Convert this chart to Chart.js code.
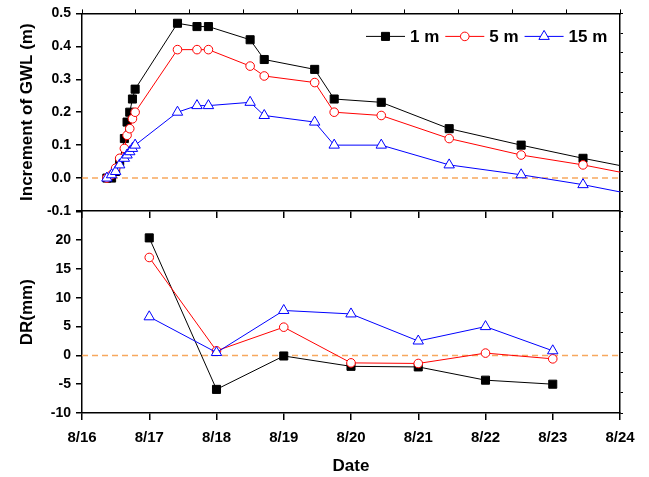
<!DOCTYPE html>
<html>
<head>
<meta charset="utf-8">
<script src="https://cdn.jsdelivr.net/npm/chart.js@4.4.1/dist/chart.umd.min.js"></script>
<style>
  body { margin: 0; background: #fff; }
  #wrap { position: relative; width: 649px; height: 477px; overflow: hidden; }
  #topChart { position: absolute; left: 0; top: 0; }
  #bottomChart { position: absolute; left: 0; top: 197px; }
</style>
</head>
<body>
<div id="wrap">
  <canvas id="topChart" width="649" height="225" style="width:649px;height:225px"></canvas>
  <canvas id="bottomChart" width="649" height="280" style="width:649px;height:280px"></canvas>
</div>
<script>
// days after 8/16 00:00
const dayLabels = ['8/16', '8/17', '8/18', '8/19', '8/20', '8/21', '8/22', '8/23', '8/24'];

// top panel - increment of groundwater level (m)
const gwlTimes = [0.37, 0.44, 0.50, 0.56, 0.63, 0.67, 0.71, 0.75, 0.79, 1.42, 1.71, 1.88, 2.50, 2.71, 3.46, 3.75, 4.45, 5.46, 6.53, 7.45, 8.45];
const gwl1m  = [0.00, 0.00, 0.02, 0.05, 0.12, 0.17, 0.20, 0.24, 0.27, 0.47, 0.46, 0.46, 0.42, 0.36, 0.33, 0.24, 0.23, 0.15, 0.10, 0.06, 0.02];
const gwl5m  = [0.00, 0.01, 0.03, 0.06, 0.09, 0.13, 0.15, 0.18, 0.20, 0.39, 0.39, 0.39, 0.34, 0.31, 0.29, 0.20, 0.19, 0.12, 0.07, 0.04, 0.00];
const gwl15m = [0.00, 0.01, 0.02, 0.04, 0.06, 0.07, 0.08, 0.09, 0.10, 0.20, 0.22, 0.22, 0.23, 0.19, 0.17, 0.10, 0.10, 0.04, 0.01, -0.02, -0.06];

// bottom panel - DR (mm)
const drDays = [1, 2, 3, 4, 5, 6, 7];
const dr1m  = [20.4, -5.9, -0.1, -1.9, -2.0, -4.3, -5.0];
const dr5m  = [17.0, 0.8, 4.9, -1.3, -1.4, 0.4, -0.6];
const dr15m = [6.7, 0.5, 7.8, 7.2, 2.5, 5.0, 0.8];

const seriesNames = ['1 m', '5 m', '15 m'];

Chart.defaults.font.family = "'Liberation Sans', Arial, sans-serif";
Chart.defaults.color = '#000';

const styles = [
  { borderColor: '#000000', backgroundColor: '#000000', pointStyle: 'rect', pointRadius: 5.7, order: 3 },
  { borderColor: '#ff0000', backgroundColor: '#ffffff', pointStyle: 'circle', pointRadius: 4.3, order: 2 },
  { borderColor: '#0000ff', backgroundColor: '#ffffff', pointStyle: 'triangle', pointRadius: 6, order: 1 }
];

function pts(xs, ys) {
  return xs.map((x, i) => ({ x: x, y: ys[i] }));
}

function makeSets(xs, lists) {
  return lists.map((ys, i) => Object.assign({
    label: seriesNames[i],
    data: pts(xs, ys),
    borderWidth: 1,
    pointBorderWidth: 1,
    pointHoverRadius: styles[i].pointRadius
  }, styles[i]));
}

const zeroLine = {
  id: 'zeroLine',
  beforeDatasetsDraw(chart) {
    const a = chart.chartArea;
    const y = chart.scales.y.getPixelForValue(0);
    const ctx = chart.ctx;
    ctx.save();
    ctx.strokeStyle = '#f7a85e';
    ctx.lineWidth = 1.5;
    ctx.setLineDash([6, 4]);
    ctx.beginPath();
    ctx.moveTo(a.left, y);
    ctx.lineTo(a.right, y);
    ctx.stroke();
    ctx.restore();
  }
};

function drawMark(ctx, st, x, y) {
  const r = st.pointRadius;
  ctx.fillStyle = st.backgroundColor;
  ctx.strokeStyle = st.borderColor;
  ctx.lineWidth = 1;
  ctx.beginPath();
  if (st.pointStyle === 'rect') {
    const h = r * Math.SQRT1_2;
    ctx.rect(x - h, y - h, 2 * h, 2 * h);
  } else if (st.pointStyle === 'circle') {
    ctx.arc(x, y, r, 0, Math.PI * 2);
  } else {
    ctx.moveTo(x, y - r);
    ctx.lineTo(x + r * Math.sin(Math.PI * 2 / 3), y + r / 2);
    ctx.lineTo(x - r * Math.sin(Math.PI * 2 / 3), y + r / 2);
    ctx.closePath();
  }
  ctx.fill();
  ctx.stroke();
}

const legendBox = {
  id: 'legendBox',
  afterDatasetsDraw(chart) {
    const ctx = chart.ctx;
    const a = chart.chartArea;
    let x = a.right - 254;
    const y = a.top + 23;
    ctx.save();
    ctx.font = "bold 17px 'Liberation Sans', Arial, sans-serif";
    ctx.textBaseline = 'middle';
    chart.data.datasets.forEach((ds, i) => {
      ctx.strokeStyle = ds.borderColor;
      ctx.lineWidth = 1;
      ctx.beginPath();
      ctx.moveTo(x, y);
      ctx.lineTo(x + 39, y);
      ctx.stroke();
      drawMark(ctx, styles[i], x + 19.5, y);
      ctx.fillStyle = '#000';
      ctx.fillText(ds.label, x + 44, y + 1);
      x += 44 + ctx.measureText(ds.label).width + 6;
    });
    ctx.restore();
  }
};

const axisLine = { display: true, color: '#000', width: 1.5 };

function mirrorAxis(pos, size, len) {
  return {
    type: 'linear', position: pos, min: 0, max: 10,
    ticks: { display: false, stepSize: 1 },
    grid: { drawOnChartArea: false, tickLength: len, color: '#000', lineWidth: 1 },
    border: axisLine,
    afterFit(s) {
      if (pos === 'top') s.height = size; else s.width = size;
    }
  };
}

const topConfig = {
  type: 'line',
  data: { datasets: makeSets(gwlTimes, [gwl1m, gwl5m, gwl15m]) },
  options: {
    responsive: false,
    animation: false,
    plugins: { legend: { display: false }, tooltip: { enabled: false } },
    scales: {
      x: {
        type: 'linear', min: 0, max: 8,
        ticks: { display: false, stepSize: 1 },
        grid: { drawOnChartArea: false, tickLength: 7, color: '#000', lineWidth: 1.5 },
        border: axisLine,
        afterFit(s) { s.height = 14; }
      },
      x2: mirrorAxis('top', 10, 4),
      y: {
        min: -0.1, max: 0.5,
        ticks: {
          stepSize: 0.1, padding: 5,
          font: { size: 14, weight: 'bold' },
          callback: (v) => (Math.abs(v) < 1e-9 ? 0 : v).toFixed(1)
        },
        grid: { drawOnChartArea: false, tickLength: 6, color: '#000', lineWidth: 1.5 },
        border: axisLine,
        title: {
          display: true, text: 'Increment of GWL (m)',
          font: { size: 17, weight: 'bold' },
          padding: { top: 17, bottom: 0 }
        },
        afterFit(s) { s.width = 82; }
      },
      y2: mirrorAxis('right', 29, 3)
    }
  },
  plugins: [zeroLine, legendBox]
};

const bottomConfig = {
  type: 'line',
  data: { datasets: makeSets(drDays, [dr1m, dr5m, dr15m]) },
  options: {
    responsive: false,
    animation: false,
    plugins: { legend: { display: false }, tooltip: { enabled: false } },
    scales: {
      x: {
        type: 'linear', min: 0, max: 8,
        ticks: {
          stepSize: 1, padding: 9,
          font: { size: 15, weight: 'bold' },
          callback: (v) => dayLabels[v]
        },
        grid: { drawOnChartArea: false, tickLength: 7, color: '#000', lineWidth: 1.5 },
        border: axisLine,
        title: {
          display: true, text: 'Date',
          font: { size: 17, weight: 'bold' },
          padding: { top: 0, bottom: 1 }
        },
        afterFit(s) { s.height = 65; }
      },
      y: {
        min: -10, max: 25,
        ticks: {
          stepSize: 5, padding: 5,
          font: { size: 14, weight: 'bold' },
          callback: (v) => (v === 25 ? '' : v)
        },
        grid: { drawOnChartArea: false, tickLength: 6, color: '#000', lineWidth: 1.5 },
        border: axisLine,
        title: {
          display: true, text: 'DR(mm)',
          font: { size: 17, weight: 'bold' },
          padding: { top: 17, bottom: 0 }
        },
        afterFit(s) { s.width = 82; }
      },
      y2: mirrorAxis('right', 29, 3)
    }
  },
  plugins: [zeroLine]
};

const topChart = new Chart(document.getElementById('topChart'), topConfig);
const bottomChart = new Chart(document.getElementById('bottomChart'), bottomConfig);

// line the lower panel up under the upper one
document.getElementById('bottomChart').style.top =
  (topChart.chartArea.bottom - bottomChart.chartArea.top) + 'px';
</script>
</body>
</html>
